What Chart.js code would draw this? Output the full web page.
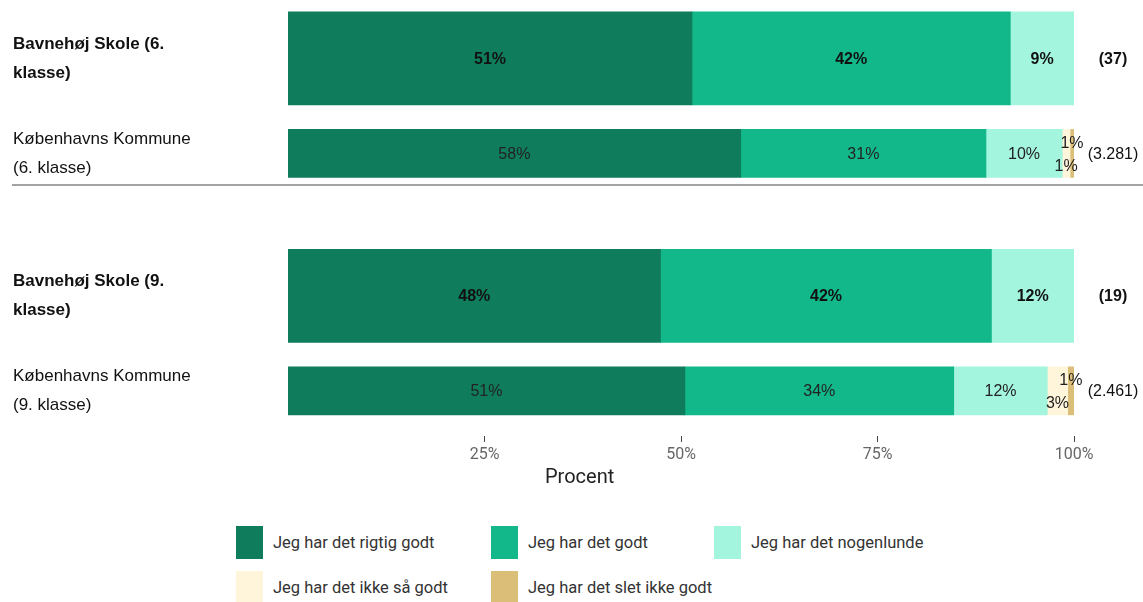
<!DOCTYPE html>
<html lang="da">
<head>
<meta charset="utf-8">
<script src="https://cdn.jsdelivr.net/npm/chart.js@4"></script>
<style>
  body { margin:0; background:#fff; width:1143px; height:602px; overflow:hidden; position:relative; font-family:'Liberation Sans', Arial, sans-serif; }
  #wrap { position:absolute; left:0; top:0; width:1143px; height:465px; }
  #axisTitle { position:absolute; left:545px; top:464px; font:20px Roboto, sans-serif; color:#222; }
  #legend { position:absolute; left:236px; top:526px; display:grid; grid-template-columns:255px 223px 280px; row-gap:12px; }
  .lg { display:flex; align-items:center; font:16.5px 'Liberation Sans Narrow', Roboto, sans-serif; color:#333; }
  .lg i { display:block; width:27px; height:33px; margin-right:10px; }
</style>
</head>
<body>
<div id="wrap"><canvas id="c"></canvas></div>
<div id="axisTitle">Procent</div>
<div id="legend"></div>
<script>
const rowLabels = [
  ['Bavnehøj Skole (6.', 'klasse)'],
  ['Københavns Kommune', '(6. klasse)'],
  ['Bavnehøj Skole (9.', 'klasse)'],
  ['Københavns Kommune', '(9. klasse)']
];
const respondents = ['(37)', '(3.281)', '(19)', '(2.461)'];
const categories = ['Jeg har det rigtig godt', 'Jeg har det godt', 'Jeg har det nogenlunde', 'Jeg har det ikke så godt', 'Jeg har det slet ikke godt'];
const colors = ['#0f7d5c', '#13b88a', '#a3f5de', '#fff5da', '#dbbf78'];

// share per row (same order as rowLabels)
const rigtigGodt   = [51.4, 57.6, 47.4, 50.5];
const godt         = [40.5, 31.2, 42.1, 34.2];
const nogenlunde   = [8.1, 9.7, 10.5, 11.9];
const ikkeSaaGodt  = [0, 1.0, 0, 2.6];
const sletIkkeGodt = [0, 0.5, 0, 0.8];

// printed labels
const rigtigGodtTxt   = ['51%', '58%', '48%', '51%'];
const godtTxt         = ['42%', '31%', '42%', '34%'];
const nogenlundeTxt   = ['9%', '10%', '12%', '12%'];
const ikkeSaaGodtTxt  = ['', '1%', '', '3%'];
const sletIkkeGodtTxt = ['', '1%', '', '1%'];

const xTicks = [25, 50, 75, 100];

const series = [rigtigGodt, godt, nogenlunde, ikkeSaaGodt, sletIkkeGodt];
const seriesTxt = [rigtigGodtTxt, godtTxt, nogenlundeTxt, ikkeSaaGodtTxt, sletIkkeGodtTxt];

// two groups (6. / 9. klasse), school row then commune row, with a gap between groups
const rowPos = rowLabels.map((_, r) => Math.floor(r / 2) * 5 + (r % 2) * 2);
const Y_MIN = -1.23, Y_MAX = 7.95;

const datasets = [];
categories.forEach((cat, c) => {
  [0, 1].forEach(kind => {
    const rows = [0, 1, 2, 3].filter(r => r % 2 === kind && series[c][r] > 0);
    datasets.push({
      label: cat,
      data: rows.map(r => ({ x: series[c][r], y: rowPos[r] })),
      texts: rows.map(r => seriesTxt[c][r]),
      backgroundColor: colors[c],
      borderWidth: 0,
      barThickness: kind === 0 ? 93 : 48,
      bold: kind === 0,
      shift: c === 3 ? 12 : (c === 4 ? -11 : 0)
    });
  });
});

const extras = {
  id: 'extras',
  beforeDatasetsDraw(chart){
    const ctx = chart.ctx, y = Math.round(chart.scales.y.getPixelForValue(2.66));
    ctx.save();
    ctx.strokeStyle = '#a3a3a3'; ctx.lineWidth = 2;
    ctx.beginPath(); ctx.moveTo(12, y); ctx.lineTo(chart.width, y); ctx.stroke();
    ctx.restore();
  },
  afterDatasetsDraw(chart){
    const ctx = chart.ctx;
    ctx.save();
    ctx.textAlign = 'center'; ctx.textBaseline = 'middle';
    chart.data.datasets.forEach((ds, i) => {
      chart.getDatasetMeta(i).data.forEach((bar, j) => {
        const t = ds.texts[j];
        if(!t) return;
        const w = bar.x - bar.base;
        ctx.font = (ds.bold ? 'bold ' : '') + '16px "Liberation Sans", Arial, sans-serif';
        ctx.fillStyle = ds.bold ? '#111' : '#222';
        ctx.fillText(t, (bar.x + bar.base) / 2, bar.y + 1 + (w < 30 ? ds.shift : 0));
      });
    });
    const ys = chart.scales.y, xr = chart.chartArea.right + 39;
    respondents.forEach((t, r) => {
      ctx.font = (r % 2 === 0 ? 'bold ' : '') + '16px "Liberation Sans", Arial, sans-serif';
      ctx.fillStyle = '#111';
      ctx.fillText(t, xr, ys.getPixelForValue(rowPos[r]) + 1);
    });
    ctx.restore();
  }
};

new Chart(document.getElementById('c'), {
  type: 'bar',
  data: { datasets },
  options: {
    indexAxis: 'y',
    responsive: true,
    maintainAspectRatio: false,
    animation: false,
    layout: { padding: { left: 13, right: 69, top: 0, bottom: 0 } },
    plugins: { legend: { display: false }, tooltip: { enabled: false } },
    scales: {
      x: {
        stacked: true, min: 0, max: 100,
        border: { display: false },
        grid: { drawOnChartArea: false, drawTicks: true, tickLength: 6, color: '#444' },
        afterBuildTicks: s => { s.ticks = xTicks.map(v => ({ value: v })); },
        afterFit: s => { s.height = 29; },
        ticks: { callback: v => v + '%', color: '#666', padding: 3, maxRotation: 0,
                 font: { family: "'Liberation Sans Narrow', Roboto, sans-serif", size: 16 } }
      },
      y: {
        type: 'linear', stacked: true, reverse: true, min: Y_MIN, max: Y_MAX,
        offset: false, bounds: 'data',
        border: { display: false },
        grid: { display: false, offset: false },
        afterBuildTicks: s => { s.ticks = rowPos.map(v => ({ value: v })); s.min = Y_MIN; s.max = Y_MAX; },
        afterFit: s => { s.width = 275; s.paddingTop = 0; s.paddingBottom = 0; },
        ticks: {
          autoSkip: false, crossAlign: 'far', color: '#111',
          callback: (v, i) => rowLabels[i],
          font: ctx => ({ family: "'Liberation Sans', Arial, sans-serif", size: 17,
                          weight: ctx.index % 2 === 0 ? 'bold' : 'normal', lineHeight: 1.7 })
        }
      }
    }
  },
  plugins: [extras]
});

const lg = document.getElementById('legend');
categories.forEach((cat, c) => {
  const d = document.createElement('div');
  d.className = 'lg';
  d.innerHTML = `<i style="background:${colors[c]}"></i><span>${cat}</span>`;
  lg.appendChild(d);
});
</script>
</body>
</html>
